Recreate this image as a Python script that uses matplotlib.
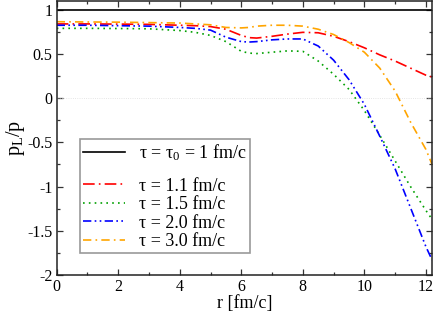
import matplotlib
matplotlib.use("Agg")
import matplotlib.pyplot as plt
from matplotlib.offsetbox import DrawingArea
from matplotlib.ticker import MultipleLocator

plt.rcParams['font.family'] = ['Liberation Serif', 'DejaVu Serif']
plt.rcParams['mathtext.fontset'] = 'custom'
plt.rcParams['mathtext.rm'] = 'Liberation Serif'
plt.rcParams['mathtext.it'] = 'Liberation Serif:italic'
plt.rcParams['axes.unicode_minus'] = False

# ---- data ----
r = [0, 1, 2, 3, 4, 4.5, 5, 5.5, 6, 6.25, 6.5, 7, 7.5, 8, 8.5, 9, 9.5, 10, 10.5, 11, 11.5, 12, 12.2]
tau_11 = [0.84, 0.84, 0.838, 0.835, 0.825, 0.82, 0.81, 0.78, 0.71, 0.685, 0.68, 0.70, 0.725, 0.745, 0.74, 0.70, 0.64, 0.57, 0.49, 0.42, 0.34, 0.26, 0.24]
tau_15 = [0.79, 0.79, 0.788, 0.785, 0.765, 0.745, 0.71, 0.64, 0.53, 0.51, 0.505, 0.52, 0.535, 0.53, 0.42, 0.27, 0.10, -0.14, -0.42, -0.71, -1.0, -1.27, -1.37]
tau_20 = [0.825, 0.825, 0.82, 0.815, 0.80, 0.79, 0.77, 0.69, 0.64, 0.635, 0.64, 0.66, 0.67, 0.67, 0.59, 0.43, 0.21, -0.07, -0.43, -0.80, -1.24, -1.68, -1.83]
tau_30 = [0.865, 0.862, 0.86, 0.855, 0.85, 0.84, 0.83, 0.80, 0.795, 0.80, 0.815, 0.825, 0.825, 0.815, 0.78, 0.72, 0.63, 0.52, 0.34, 0.08, -0.27, -0.58, -0.75]
tau_0_val = 1.0
r_range = [0, 12.2]

labels = ['τ = τ$_0$ = 1 fm/c', 'τ = 1.1 fm/c', 'τ = 1.5 fm/c', 'τ = 2.0 fm/c', 'τ = 3.0 fm/c']

fig = plt.figure(figsize=(4.36, 3.13), dpi=100)
ax = fig.add_axes([0.130, 0.1214, 0.861, 0.8756])

ax.axhline(0, color='#dddddd', lw=0.6, ls=':')
l0, = ax.plot(r_range, [tau_0_val, tau_0_val], color='black', lw=1.2)
l1, = ax.plot(r, tau_11, color='#ff0000', lw=1.2, dashes=(7, 2.5, 1, 2.5))
l2, = ax.plot(r, tau_15, color='#00a000', lw=1.2, dashes=(1, 2.5))
l3, = ax.plot(r, tau_20, color='#0000ff', lw=1.2, dashes=(5, 2, 1, 2, 1, 2))
l4, = ax.plot(r, tau_30, color='#ffa500', lw=1.2, dashes=(5, 2.5, 1, 2.5))

ax.set_xlim(0, 12.2)
ax.set_ylim(-2, 1.1)
ax.xaxis.set_major_locator(MultipleLocator(2))
ax.xaxis.set_minor_locator(MultipleLocator(1))
ax.yaxis.set_minor_locator(MultipleLocator(0.25))
ax.set_yticks([-2, -1.5, -1, -0.5, 0, 0.5, 1])
ax.set_yticklabels(['-2', '-1.5', '-1', '-0.5', '0', '0.5', '1'])
ax.tick_params(which='both', direction='in', top=True, right=True, labelsize=11.5, colors='#333333', labelcolor='black')
ax.tick_params(which='major', length=4, width=0.9, pad=3)
ax.tick_params(which='minor', length=2.2, width=0.9)
for s in ax.spines.values():
    s.set_linewidth(1.1)
    s.set_color('#222222')

ax.set_xlabel('r [fm/c]', fontsize=13, labelpad=0)
ax.set_ylabel(r'p$_\mathrm{L}$/p', fontsize=14.5, labelpad=0)

leg = ax.legend([l0, l1, l2, l3, l4], labels,
                loc='lower left', bbox_to_anchor=(0.062, 0.079), borderaxespad=0,
                fontsize=13, frameon=True, fancybox=False, framealpha=1,
                edgecolor='#999999', handlelength=2.3, handletextpad=0.8,
                labelspacing=0.08, borderpad=0.18)
leg.get_frame().set_linewidth(1.2)
# extra vertical gap after the first legend entry
column = leg._legend_handle_box.get_children()[0]
column.get_children().insert(1, DrawingArea(1, 8.3, 0, 0))

fig.savefig('out.png', dpi=100)
